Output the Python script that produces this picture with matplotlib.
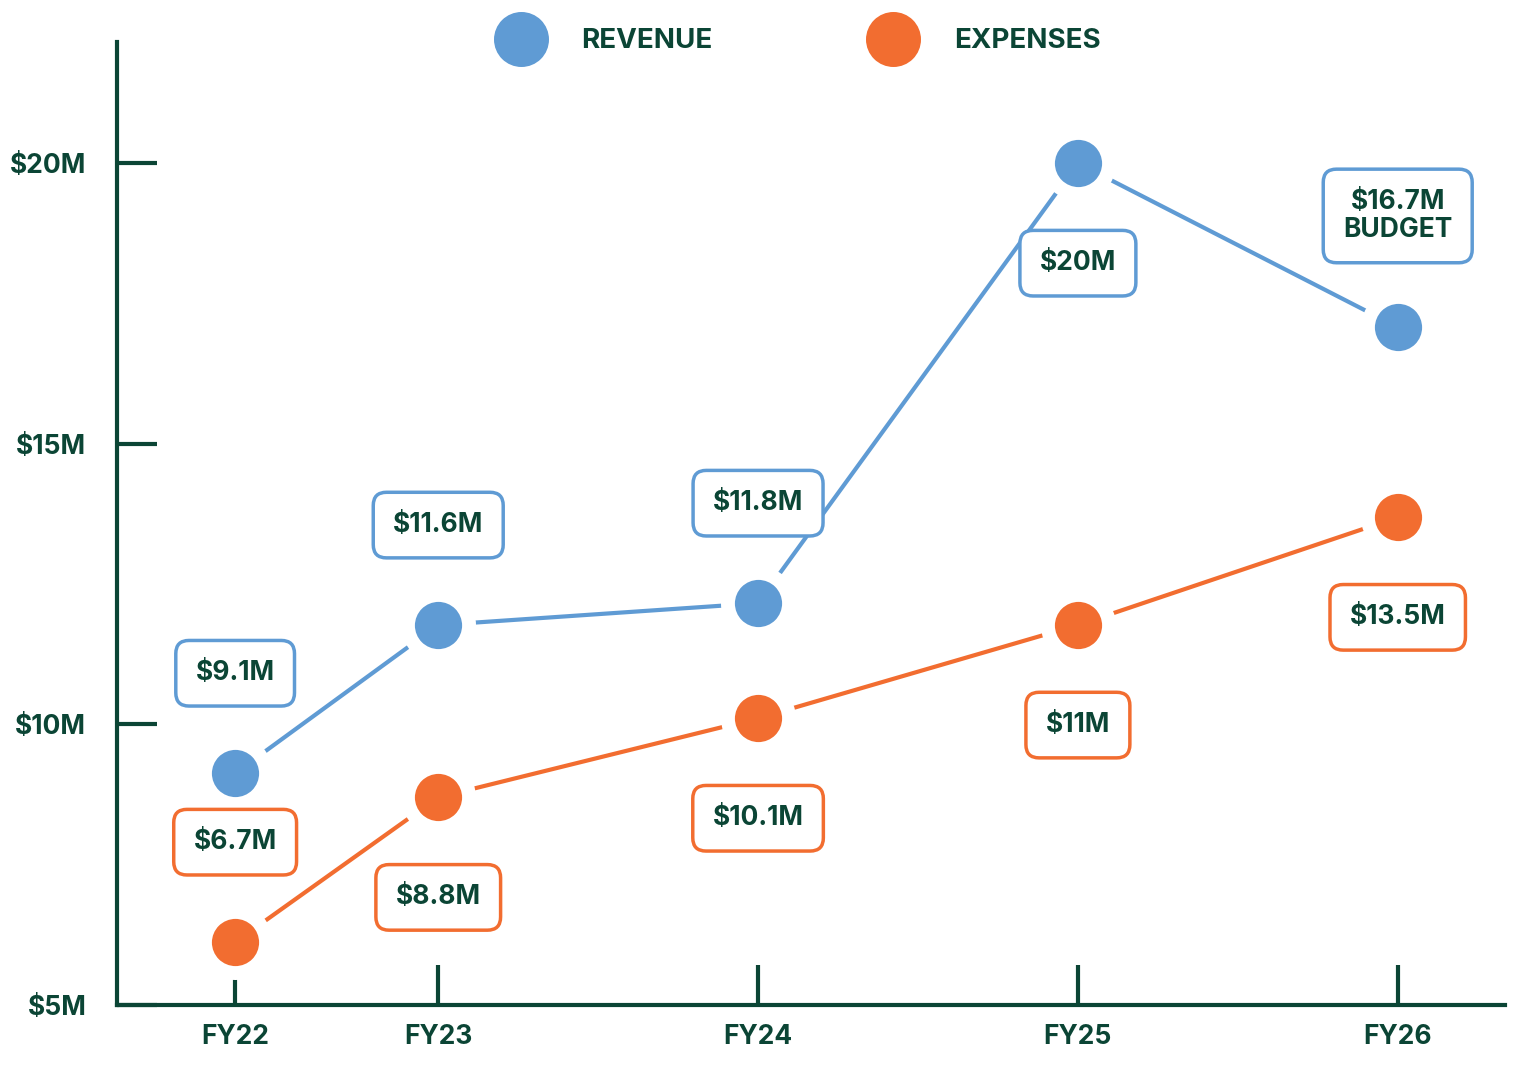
import matplotlib.pyplot as plt

plt.rcParams['font.family'] = ['Inter', 'DejaVu Sans']
plt.rcParams['font.weight'] = 'bold'

green = '#0b4535'
blue = '#5f9bd4'
orange = '#f26d30'

# Making the Graph
years = ['FY22', 'FY23', 'FY24', 'FY25', 'FY26']
x = [0, 0.635, 1.635, 2.635, 3.635]
revenue = [9.13, 11.77, 12.16, 20.0, 17.08]
expenses = [6.12, 8.70, 10.11, 11.77, 13.69]
rev_labels = ['$9.1M', '$11.6M', '$11.8M', '$20M', '$16.7M\nBUDGET']
exp_labels = ['$6.7M', '$8.8M', '$10.1M', '$11M', '$13.5M']
rev_side = [1, 1, 1, -1, 1]  # 1 = label above point, -1 = below
exp_side = [1, -1, -1, -1, -1]

plt.figure(figsize=(15.17, 10.87), dpi=100)
plt.axes([0.077, 0.0754, 0.915, 0.886])

plt.plot(x, revenue, color=blue, lw=3, marker='o', ms=44, mfc=blue, mec='white', mew=10, label='REVENUE', zorder=3)
plt.plot(x, expenses, color=orange, lw=3, marker='o', ms=44, mfc=orange, mec='white', mew=10, label='EXPENSES', zorder=3)

for xs, ys, labels, sides, col in [(x, revenue, rev_labels, rev_side, blue), (x, expenses, exp_labels, exp_side, orange)]:
    for xi, yi, lab, s in zip(xs, ys, labels, sides):
        off = 72 if '\n' not in lab else 80
        plt.annotate(lab, (xi, yi), xytext=(0, s * off), textcoords='offset points', ha='center', va='center',
                     fontsize=19, color=green, linespacing=1.1, zorder=5,
                     bbox=dict(boxstyle='round,pad=0.75,rounding_size=0.5', fc='white', ec=col, lw=2.5))
        plt.annotate('', (xi, yi), xytext=(0, s * (off - 28 - (6 if '\n' in lab else 0))), textcoords='offset points',
                     arrowprops=dict(arrowstyle='-', color='none'))

plt.xlim(-0.37, 3.97)
plt.ylim(5, 22.16)
plt.xticks(x, years, fontsize=19, color=green)
plt.yticks([5, 10, 15, 20], ['$5M', '$10M', '$15M', '$20M'], fontsize=19, color=green)
plt.tick_params(axis='both', direction='in', length=29, width=3, color=green, pad=14)
plt.tick_params(axis='y', pad=22)
ax = plt.gca()
for side in ['top', 'right']:
    ax.spines[side].set_visible(False)
for side in ['left', 'bottom']:
    ax.spines[side].set_color(green)
    ax.spines[side].set_linewidth(3)

leg = plt.legend(loc='upper center', bbox_to_anchor=(0.5, 1.04), ncol=2, frameon=False, fontsize=20,
                 markerscale=0.9, handlelength=0, handletextpad=2.2, columnspacing=6.5, labelcolor=green)
for h in leg.legend_handles:
    h.set_markeredgewidth(0)
for t in leg.get_texts():
    t.set_fontweight('bold')

plt.savefig('out.png', dpi=100)
